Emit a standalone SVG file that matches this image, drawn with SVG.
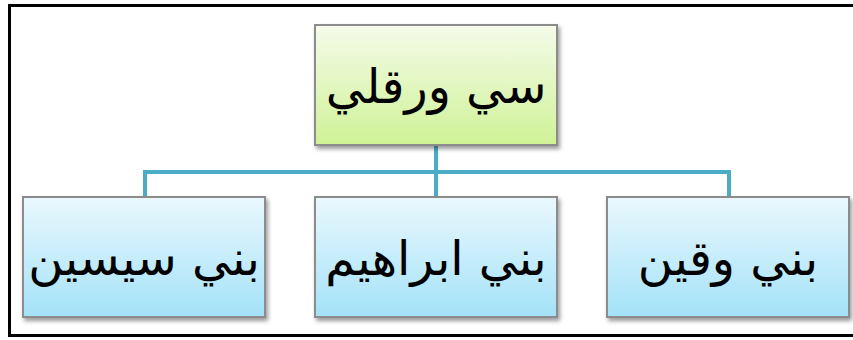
<svg xmlns="http://www.w3.org/2000/svg" width="853" height="340" viewBox="0 0 853 340">
<defs>
<linearGradient id="gGreen" x1="0" y1="0" x2="0" y2="1">
<stop offset="0" stop-color="#F5FBEA"/>
<stop offset="1" stop-color="#CFF296"/>
</linearGradient>
<linearGradient id="gBlue" x1="0" y1="0" x2="0" y2="1">
<stop offset="0" stop-color="#EAF8FD"/>
<stop offset="1" stop-color="#A3E2F8"/>
</linearGradient>
<filter id="sh" x="-10%" y="-10%" width="130%" height="130%">
<feDropShadow dx="2" dy="3" stdDeviation="2" flood-color="#000" flood-opacity="0.4"/>
</filter>
</defs>
<style>
.box{stroke:#8C8C8C;stroke-width:2;filter:url(#sh)}
.lbl{font-family:"DejaVu Sans",sans-serif;font-size:48px;fill:#000;text-anchor:middle}
.conn{fill:none;stroke:#4BACC6;stroke-width:4}
</style>
<rect x="0" y="0" width="853" height="340" fill="#fff"/>
<rect x="9.5" y="5.5" width="860" height="330" fill="none" stroke="#000" stroke-width="3"/>
<g id="connectors">
<path class="conn" d="M436 146 V197 M145 197 V172 H729 V197"/>
</g>
<g id="node-top">
<rect class="box" x="315" y="25" width="242" height="120" fill="url(#gGreen)"/>
<text class="lbl" x="436" y="103">سي ورقلي</text>
</g>
<g id="node-left">
<rect class="box" x="23" y="197" width="242" height="120" fill="url(#gBlue)"/>
<text class="lbl" x="144" y="275">بني سيسين</text>
</g>
<g id="node-middle">
<rect class="box" x="315" y="197" width="242" height="120" fill="url(#gBlue)"/>
<text class="lbl" x="436" y="275">بني ابراهيم</text>
</g>
<g id="node-right">
<rect class="box" x="607" y="197" width="242" height="120" fill="url(#gBlue)"/>
<text class="lbl" x="728" y="275">بني وقين</text>
</g>
</svg>
